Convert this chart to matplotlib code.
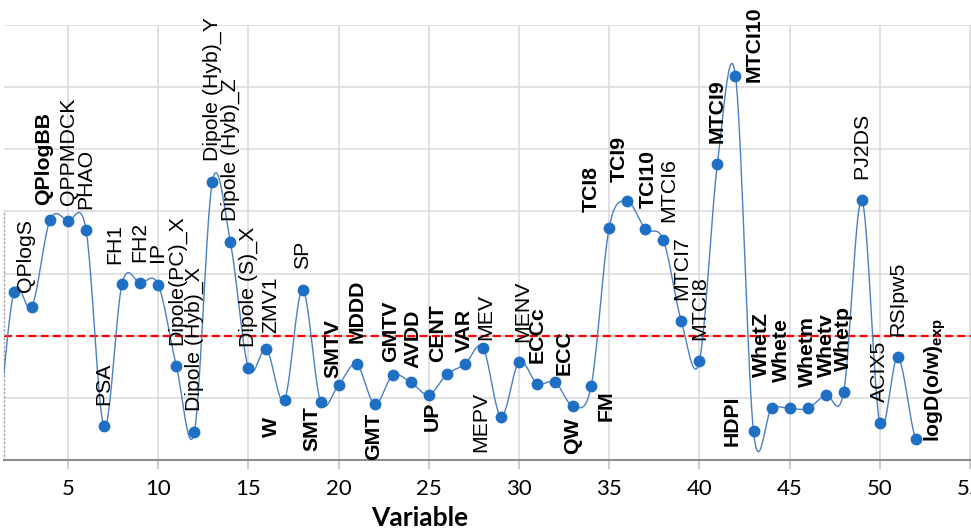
import numpy as np
import matplotlib

matplotlib.use("Agg")
import matplotlib.pyplot as plt  # noqa: E402

# values (one point per variable, 1..52)
VARIABLE = list(range(1, 53))
SCORE = [0.40, 2.70, 2.47, 3.86, 3.85, 3.70, 0.54, 2.84, 2.85, 2.82,
         1.52, 0.45, 4.48, 3.51, 1.48, 1.78, 0.97, 2.74, 0.94, 1.21,
         1.54, 0.90, 1.36, 1.25, 1.05, 1.38, 1.54, 1.81, 0.70, 1.58,
         1.23, 1.25, 0.87, 1.19, 3.74, 4.16, 3.72, 3.54, 2.23, 1.59,
         4.77, 6.18, 0.46, 0.83, 0.83, 0.83, 1.05, 1.10, 4.18, 0.59,
         1.65, 0.34]
LABELS = ["", "", "QPlogS", "QPlogBB", "QPPMDCK", "PHAO", "PSA", "FH1", "FH2", "IP",
          "Dipole(PC)_X", "Dipole (Hyb)_X", "Dipole (Hyb)_Y", "Dipole (Hyb)_Z",
          "Dipole (S)_X", "ZMV1", "W", "SP", "SMT", "SMTV",
          "MDDD", "GMT", "GMTV", "AVDD", "UP", "CENT", "VAR", "MEV", "MEPV", "MENV",
          "ECCc", "ECC", "QW", "FM", "TCI8", "TCI9", "TCI10", "MTCI6", "MTCI7", "MTCI8",
          "MTCI9", "MTCI10", "HDPI", "WhetZ", "Whete", "Whetm", "Whetv", "Whetp", "PJ2DS", "ACIX5",
          "RSIpw5", r"logD(o/w)$_{\mathregular{exp}}$"]
BOLD_LABELS = ["QPlogBB", "W", "SMT", "SMTV", "MDDD", "GMT", "GMTV", "AVDD", "UP", "CENT",
               "VAR", "ECCc", "ECC", "QW", "FM", "TCI8", "TCI9", "TCI10", "MTCI9", "MTCI10",
               "HDPI", "WhetZ", "Whete", "Whetm", "Whetv", "Whetp",
               r"logD(o/w)$_{\mathregular{exp}}$"]
THRESHOLD = 2.0
XTICKS = [5, 10, 15, 20, 25, 30, 35, 40, 45, 50, 55]

# label placement (pixels from the point: dx, dy, which edge of the text sits there)
DEFAULT_POS = (0, 21, "bottom")
LABEL_POS = {
    "QPlogS": (-6, 15, "bottom"), "QPlogBB": (-6, 15, "bottom"), "QPPMDCK": (0, 16, "bottom"),
    "FH1": (-7, 20, "bottom"), "IP": (-1, 23, "bottom"), "ZMV1": (4, 16, "bottom"),
    "W": (-13, -17, "top"), "SMT": (-9, -5, "top"), "SMTV": (-6, 7, "bottom"),
    "GMT": (-1, -9, "top"), "GMTV": (-2, 13, "bottom"), "AVDD": (2, 14, "bottom"),
    "UP": (3, -7, "top"), "CENT": (-9, 12, "bottom"), "VAR": (-1, 12, "bottom"),
    "MEV": (3, 8, "bottom"), "MEPV": (-20, -5, "center"), "MENV": (4, 20, "bottom"),
    "ECC": (9, 7, "bottom"), "QW": (0, -12, "top"), "FM": (15, -4, "top"),
    "TCI8": (-18, 16, "bottom"), "TCI9": (-8, 19, "bottom"), "TCI10": (3, 21, "bottom"),
    "MTCI6": (5, 18, "bottom"), "MTCI10": (19, -6, "bottom"), "HDPI": (-21, -15, "bottom"),
    "WhetZ": (-10, 31, "bottom"), "Whete": (-8, 26, "bottom"), "Whetv": (1, 18, "bottom"),
    r"logD(o/w)$_{\mathregular{exp}}$": (19, -3, "bottom"),
}

LINE = "#4a7fc4"
DOT = "#1f6fc5"
GRID = "#d9d9d9"


def smooth(x, y, n=24):
    """Catmull-Rom through the points (what a spreadsheet 'smoothed line' looks like)."""
    x = np.asarray(x, float)
    y = np.asarray(y, float)
    yp = np.concatenate([[y[0]], y, [y[-1]]])
    m = (yp[2:] - yp[:-2]) / 2
    xs, ys = [], []
    t = np.linspace(0, 1, n, endpoint=False)
    h00 = 2 * t**3 - 3 * t**2 + 1
    h10 = t**3 - 2 * t**2 + t
    h01 = -2 * t**3 + 3 * t**2
    h11 = t**3 - t**2
    for i in range(len(x) - 1):
        xs.append(x[i] + t * (x[i + 1] - x[i]))
        ys.append(h00 * y[i] + h10 * m[i] + h01 * y[i + 1] + h11 * m[i + 1])
    xs.append([x[-1]])
    ys.append([y[-1]])
    return np.concatenate(xs), np.concatenate(ys)


def main() -> None:
    plt.rcParams.update({
        "font.family": "Liberation Sans",
        "mathtext.fontset": "custom",
        "mathtext.rm": "Liberation Sans",
        "figure.facecolor": "white",
        "axes.facecolor": "white",
    })

    fig = plt.figure(figsize=(9.71, 5.29), dpi=100)
    W, H = 971, 529
    ax = fig.add_axes([4 / W, 69 / H, 986 / W, 435 / H])

    ax.set_xlim(1.45, 56.11)
    ax.set_ylim(0, 7)

    xs, ys = smooth(VARIABLE, SCORE)
    ax.plot(xs, ys, color=LINE, lw=1.0, zorder=3)
    ax.plot(VARIABLE, SCORE, "o", color=DOT, ms=7.5, zorder=4)
    ax.axhline(THRESHOLD, color="#ff0000", lw=1.6, ls=(0, (3.6, 1.9)), zorder=2)

    for x, y, lab in zip(VARIABLE, SCORE, LABELS):
        if not lab:
            continue
        dx, dy, edge = LABEL_POS.get(lab, DEFAULT_POS)
        ax.annotate(lab, (x, y), xytext=(dx, dy), textcoords="offset pixels",
                    rotation=90, ha="center", va=edge, fontsize=15.3,
                    fontweight="bold" if lab in BOLD_LABELS else "normal",
                    color="black", zorder=5, annotation_clip=False)

    ax.set_xticks(XTICKS)
    ax.set_yticks(range(0, 8))
    ax.set_yticklabels([])
    ax.grid(True, color=GRID, lw=1.1)
    ax.set_axisbelow(True)
    ax.tick_params(axis="x", direction="out", length=6.5, width=1.1, color="#bfbfbf",
                   pad=7, labelsize=16)
    ax.tick_params(axis="y", length=0)
    for lab in ax.get_xticklabels():
        lab.set_fontfamily("Lato")

    for s in ("top", "right"):
        ax.spines[s].set_visible(False)
    ax.spines["bottom"].set_color("#8c8c8c")
    ax.spines["bottom"].set_linewidth(1.5)
    ax.spines["left"].set_color("#a6a6a6")
    ax.spines["left"].set_linestyle((0, (1, 2)))
    ax.spines["left"].set_linewidth(1.0)
    ax.spines["left"].set_bounds(0, 4)

    ax.text((420 - 4) / 986, (460 - 518) / 435, "Variable", transform=ax.transAxes,
            ha="center", va="center", fontsize=19, fontweight="bold", family="Lato")

    fig.savefig("out.png", dpi=100)


if __name__ == "__main__":
    main()
